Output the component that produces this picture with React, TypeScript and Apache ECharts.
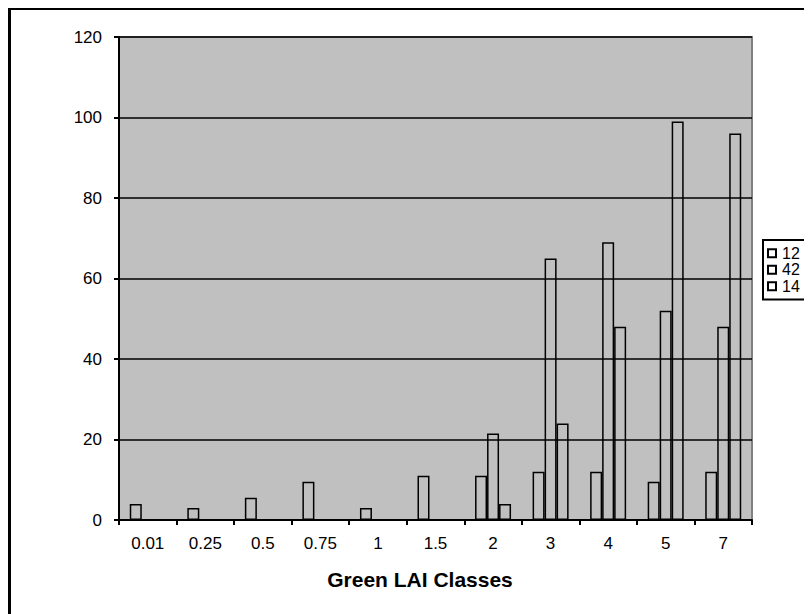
import React, { useEffect, useRef } from "react";
import * as echarts from "echarts";

const categories = ["0.01", "0.25", "0.5", "0.75", "1", "1.5", "2", "3", "4", "5", "7"];
const seriesNames = ["12", "42", "14"];
const values12 = [4, 3, 5.5, 9.5, 3, 11, 11, 12, 12, 9.5, 12];
const values42 = [0, 0, 0, 0, 0, 0, 21.5, 65, 69, 52, 48];
const values14 = [0, 0, 0, 0, 0, 0, 4, 24, 48, 99, 96];
const yTicks = { min: 0, max: 120, interval: 20 };
const xAxisTitle = "Green LAI Classes";

const FONT = "'Liberation Sans', Arial, sans-serif";

export default function App() {
  const ref = useRef<HTMLDivElement>(null);
  useEffect(() => {
    if (!ref.current) return;
    const chart = echarts.init(ref.current, null, { renderer: "svg" });
    const allValues = [values12, values42, values14];
    chart.setOption({
      animation: false,
      backgroundColor: "#ffffff",
      textStyle: { fontFamily: FONT, color: "#000" },
      graphic: [
        {
          type: "rect",
          shape: { x: 1.5, y: 0.5, width: 900, height: 900 },
          style: { fill: "none", stroke: "#000", lineWidth: 3 },
          silent: true,
        },
      ],
      grid: {
        left: 111,
        top: 29,
        width: 633,
        height: 483,
        show: true,
        backgroundColor: "#c0c0c0",
        borderColor: "#808080",
        borderWidth: 2,
      },
      legend: {
        orient: "vertical",
        left: 755,
        top: 232,
        data: seriesNames,
        backgroundColor: "#ffffff",
        borderColor: "#000",
        borderWidth: 2,
        borderRadius: 0,
        padding: [5, 20, 5, 4],
        itemWidth: 8,
        itemHeight: 8,
        itemGap: 0,
        icon: "rect",
        textStyle: { fontFamily: FONT, fontSize: 16, lineHeight: 16.5, color: "#000", padding: [0, 0, 0, 1] },
        itemStyle: { color: "#ffffff", borderColor: "#000", borderWidth: 2 },
      },
      xAxis: {
        type: "category",
        data: categories,
        boundaryGap: true,
        axisLine: { lineStyle: { color: "#000", width: 2 } },
        axisTick: { show: true, alignWithLabel: false, length: 5, lineStyle: { color: "#000", width: 2 } },
        axisLabel: { fontFamily: FONT, fontSize: 17, color: "#000", margin: 15 },
        name: xAxisTitle,
        nameLocation: "middle",
        nameGap: 49,
        nameTextStyle: { fontFamily: FONT, fontSize: 21, fontWeight: "bold", color: "#000", padding: [0, 31, 0, 0] },
        splitLine: { show: false },
      },
      yAxis: {
        type: "value",
        min: yTicks.min,
        max: yTicks.max,
        interval: yTicks.interval,
        axisLine: { show: true, lineStyle: { color: "#000", width: 2 } },
        axisTick: { show: true, length: 5, lineStyle: { color: "#000", width: 2 } },
        axisLabel: { fontFamily: FONT, fontSize: 17, color: "#000", margin: 17 },
        splitLine: { show: true, lineStyle: { color: "#000", width: 1.5 } },
      },
      series: seriesNames.map((name, i) => ({
        name,
        type: "bar",
        data: allValues[i],
        barWidth: 12,
        barGap: "0%",
        itemStyle: { color: "rgba(0,0,0,0)", borderColor: "#000", borderWidth: 1.5 },
        emphasis: { disabled: true },
      })),
    });
    return () => chart.dispose();
  }, []);
  return <div ref={ref} style={{ width: 804, height: 606 }} />;
}
